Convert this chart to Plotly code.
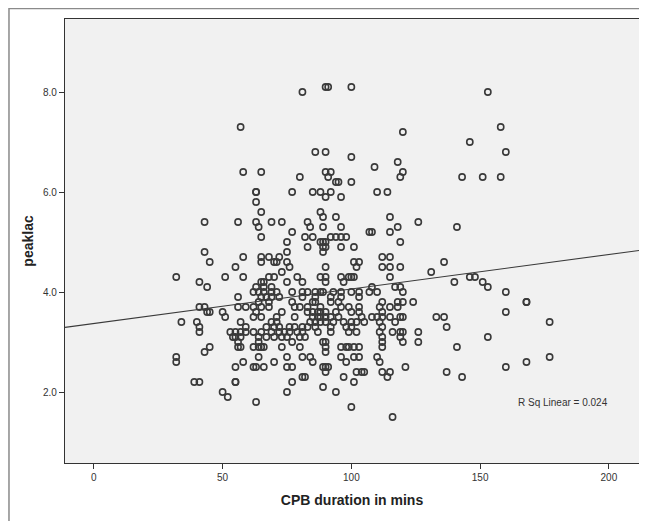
import plotly.graph_objects as go

# CPB duration (minutes) and peak lactate, listed row by row (by lactate level)
cpb_minutes = [
    90, 91, 100,
    81, 153,
    57, 158,
    120,
    146,
    86, 90, 160,
    100,
    118,
    109,
    58, 65, 90, 92, 120,
    80, 91, 119, 143, 151, 158,
    94, 95, 100,
    63, 63, 77, 85, 88, 92, 110, 114,
    90, 96,
    63,
    65, 88,
    89, 94, 115,
    43, 56, 63, 69, 73, 83, 126,
    64, 84, 89, 96, 118, 141,
    77, 107, 108, 115,
    65, 82, 85, 92, 94, 96, 98,
    75, 88, 89, 90, 119,
    83, 89, 90, 96, 101,
    43, 75, 89,
    58, 65, 68, 72, 112, 115,
    45, 65, 70, 71, 75, 101, 103, 136,
    55, 76, 90, 102, 112, 115, 119,
    73, 131,
    32, 51, 58, 68, 70, 79, 88, 90, 96, 99, 100, 101, 115, 146, 148,
    41, 65, 66, 75, 81, 90, 97, 140, 151,
    44, 63, 66, 69, 108, 117, 119, 153,
    62, 64, 66, 69, 71, 77, 81, 83, 86, 88, 89, 93, 96, 100, 103, 107, 110, 120, 160,
    56, 65, 67, 69, 72, 81, 86, 92, 96, 103,
    64, 68, 77, 85, 86, 92, 95, 112, 118, 120, 124, 168, 168,
    41, 43, 56, 59, 62, 65, 68, 78, 80, 83, 88, 96, 99, 103, 111, 115, 118,
    44, 45, 50, 63, 73, 83, 85, 87, 88, 90, 94, 100, 103, 112, 160,
    51, 62, 65, 71, 78, 85, 87, 88, 90, 92, 95, 104, 108, 110, 112, 115, 119, 120, 133, 136,
    34, 40, 57, 69, 71, 84, 86, 88, 90, 93, 97, 100, 102, 105, 111, 117, 177,
    41, 59, 67, 70, 72, 76, 78, 81, 83, 86, 92, 98, 100, 112, 137,
    41, 53, 55, 57, 59, 62, 65, 69, 72, 74, 76, 79, 81, 87, 92, 99, 102, 111, 116, 119, 120, 126,
    54, 55, 57, 64, 67, 70, 73, 75, 80, 82, 112, 119, 153,
    56, 64, 77, 89, 90, 112, 120, 126,
    45, 56, 57, 62, 64, 65, 66, 73, 80, 90, 96, 98, 99, 101, 103, 112, 141,
    43, 90,
    32, 64, 75, 81, 84, 96, 101, 103, 110, 177,
    32, 58, 70, 85, 98, 111, 168,
    55, 62, 63, 66, 75, 77, 89, 90, 91, 121, 160,
    90, 102, 104, 105, 112, 115, 137,
    81, 82, 97, 114, 143,
    39, 41, 55, 55, 77, 101,
    89,
    50, 75, 94,
    52,
    63,
    100,
    116,
]

peak_lactate = [
    8.1, 8.1, 8.1,
    8.0, 8.0,
    7.3, 7.3,
    7.2,
    7.0,
    6.8, 6.8, 6.8,
    6.7,
    6.6,
    6.5,
    6.4, 6.4, 6.4, 6.4, 6.4,
    6.3, 6.3, 6.3, 6.3, 6.3, 6.3,
    6.2, 6.2, 6.2,
    6.0, 6.0, 6.0, 6.0, 6.0, 6.0, 6.0, 6.0,
    5.9, 5.9,
    5.8,
    5.6, 5.6,
    5.5, 5.5, 5.5,
    5.4, 5.4, 5.4, 5.4, 5.4, 5.4, 5.4,
    5.3, 5.3, 5.3, 5.3, 5.3, 5.3,
    5.2, 5.2, 5.2, 5.2,
    5.1, 5.1, 5.1, 5.1, 5.1, 5.1, 5.1,
    5.0, 5.0, 5.0, 5.0, 5.0,
    4.9, 4.9, 4.9, 4.9, 4.9,
    4.8, 4.8, 4.8,
    4.7, 4.7, 4.7, 4.7, 4.7, 4.7,
    4.6, 4.6, 4.6, 4.6, 4.6, 4.6, 4.6, 4.6,
    4.5, 4.5, 4.5, 4.5, 4.5, 4.5, 4.5,
    4.4, 4.4,
    4.3, 4.3, 4.3, 4.3, 4.3, 4.3, 4.3, 4.3, 4.3, 4.3, 4.3, 4.3, 4.3, 4.3, 4.3,
    4.2, 4.2, 4.2, 4.2, 4.2, 4.2, 4.2, 4.2, 4.2,
    4.1, 4.1, 4.1, 4.1, 4.1, 4.1, 4.1, 4.1,
    4.0, 4.0, 4.0, 4.0, 4.0, 4.0, 4.0, 4.0, 4.0, 4.0, 4.0, 4.0, 4.0, 4.0, 4.0, 4.0, 4.0, 4.0, 4.0,
    3.9, 3.9, 3.9, 3.9, 3.9, 3.9, 3.9, 3.9, 3.9, 3.9,
    3.8, 3.8, 3.8, 3.8, 3.8, 3.8, 3.8, 3.8, 3.8, 3.8, 3.8, 3.8, 3.8,
    3.7, 3.7, 3.7, 3.7, 3.7, 3.7, 3.7, 3.7, 3.7, 3.7, 3.7, 3.7, 3.7, 3.7, 3.7, 3.7, 3.7,
    3.6, 3.6, 3.6, 3.6, 3.6, 3.6, 3.6, 3.6, 3.6, 3.6, 3.6, 3.6, 3.6, 3.6, 3.6,
    3.5, 3.5, 3.5, 3.5, 3.5, 3.5, 3.5, 3.5, 3.5, 3.5, 3.5, 3.5, 3.5, 3.5, 3.5, 3.5, 3.5, 3.5, 3.5, 3.5,
    3.4, 3.4, 3.4, 3.4, 3.4, 3.4, 3.4, 3.4, 3.4, 3.4, 3.4, 3.4, 3.4, 3.4, 3.4, 3.4, 3.4,
    3.3, 3.3, 3.3, 3.3, 3.3, 3.3, 3.3, 3.3, 3.3, 3.3, 3.3, 3.3, 3.3, 3.3, 3.3,
    3.2, 3.2, 3.2, 3.2, 3.2, 3.2, 3.2, 3.2, 3.2, 3.2, 3.2, 3.2, 3.2, 3.2, 3.2, 3.2, 3.2, 3.2, 3.2, 3.2, 3.2, 3.2,
    3.1, 3.1, 3.1, 3.1, 3.1, 3.1, 3.1, 3.1, 3.1, 3.1, 3.1, 3.1, 3.1,
    3.0, 3.0, 3.0, 3.0, 3.0, 3.0, 3.0, 3.0,
    2.9, 2.9, 2.9, 2.9, 2.9, 2.9, 2.9, 2.9, 2.9, 2.9, 2.9, 2.9, 2.9, 2.9, 2.9, 2.9, 2.9,
    2.8, 2.8,
    2.7, 2.7, 2.7, 2.7, 2.7, 2.7, 2.7, 2.7, 2.7, 2.7,
    2.6, 2.6, 2.6, 2.6, 2.6, 2.6, 2.6,
    2.5, 2.5, 2.5, 2.5, 2.5, 2.5, 2.5, 2.5, 2.5, 2.5, 2.5,
    2.4, 2.4, 2.4, 2.4, 2.4, 2.4, 2.4,
    2.3, 2.3, 2.3, 2.3, 2.3,
    2.2, 2.2, 2.2, 2.2, 2.2, 2.2,
    2.1,
    2.0, 2.0, 2.0,
    1.9,
    1.8,
    1.7,
    1.5,
]

# Linear fit shown on the chart
fit_intercept = 3.37
fit_slope = 0.0069
r_sq_label = "R Sq Linear = 0.024"

x_ticks = [0, 50, 100, 150, 200]
y_ticks = [2.0, 4.0, 6.0, 8.0]
x_range = [-11.2, 211.7]
y_range = [0.58, 9.46]

fit_x = x_range
fit_y = [fit_intercept + fit_slope * v for v in fit_x]

fig = go.Figure()
fig.add_trace(go.Scatter(
    x=cpb_minutes, y=peak_lactate, mode="markers",
    marker=dict(symbol="circle-open", size=6.2, color="#3a3a3a",
                line=dict(width=1.6, color="#3a3a3a")),
    showlegend=False, hoverinfo="x+y",
))
fig.add_trace(go.Scatter(
    x=fit_x, y=fit_y, mode="lines",
    line=dict(color="#3a3a3a", width=1.1),
    showlegend=False, hoverinfo="skip",
))

tick_font = dict(family="Liberation Sans Narrow, Arial Narrow, Liberation Sans, Arial", size=10, color="#333333")
title_font = dict(family="Liberation Sans, Arial", size=14, color="#222222")

# The page body adds an 8px offset, so the figure is 8px smaller than the window
fig.update_layout(
    width=639, height=513,
    margin=dict(l=57, r=8, t=11, b=58),
    paper_bgcolor="white",
    plot_bgcolor="#f1f1f1",
    xaxis=dict(
        range=x_range, tickvals=x_ticks, ticktext=[str(v) for v in x_ticks],
        showgrid=False, zeroline=False, automargin=False,
        showline=True, mirror=True, linecolor="#333333", linewidth=1.2,
        ticks="outside", ticklen=5, tickcolor="#333333", tickwidth=1,
        tickfont=tick_font,
        title=dict(text="<b>CPB duration in mins</b>", font=title_font, standoff=13),
    ),
    yaxis=dict(
        range=y_range, tickvals=y_ticks, ticktext=[f"{v:.1f}" for v in y_ticks],
        showgrid=False, zeroline=False, automargin=False,
        showline=True, mirror=True, linecolor="#333333", linewidth=1.2,
        ticks="outside", ticklen=5, tickcolor="#333333", tickwidth=1,
        tickfont=tick_font,
        title=dict(text="<b>peaklac</b>", font=title_font, standoff=6),
    ),
    annotations=[dict(
        x=182, y=1.8, xref="x", yref="y", text=r_sq_label, showarrow=False,
        font=dict(family="Liberation Sans Narrow, Arial Narrow, Liberation Sans, Arial", size=10, color="#333333"),
    )],
    shapes=[dict(
        type="rect", xref="paper", yref="paper",
        x0=-0.0976, x1=1.0075, y0=-0.14, y1=1.0236,
        line=dict(color="#8a8a8a", width=1.5), fillcolor="rgba(0,0,0,0)", layer="below",
    )],
)

fig.write_html("out.html")
